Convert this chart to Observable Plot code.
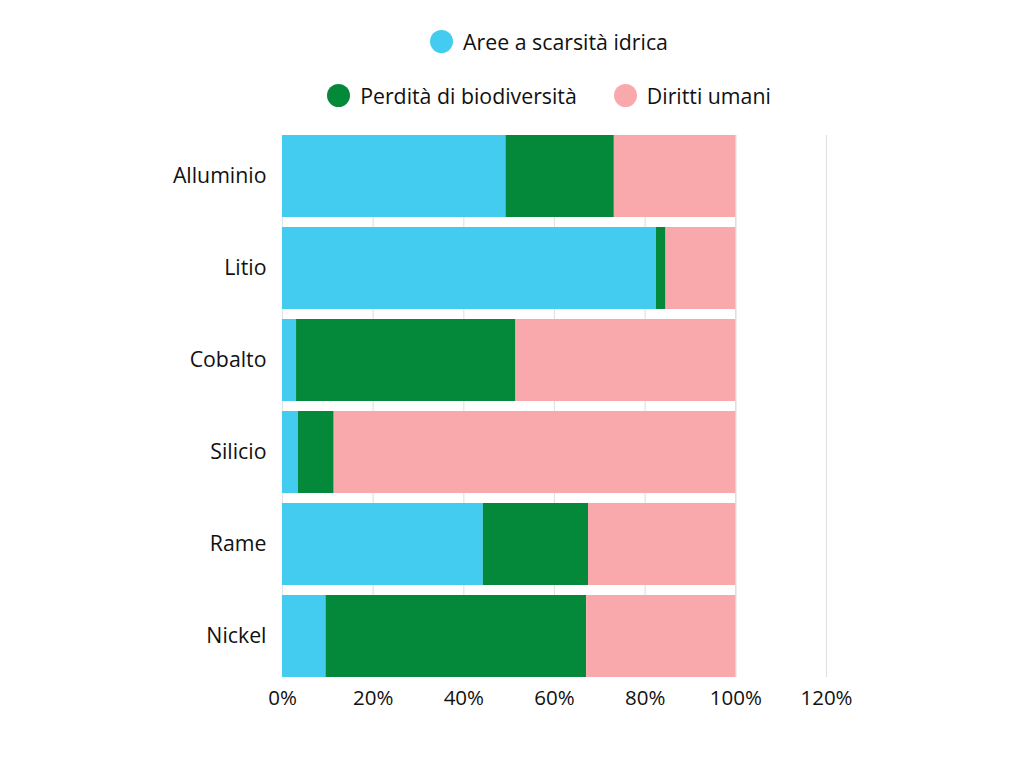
<!DOCTYPE html>
<html>
<head>
<meta charset="utf-8">
<script src="https://cdn.jsdelivr.net/npm/d3@7"></script>
<script src="https://cdn.jsdelivr.net/npm/@observablehq/plot@0.6"></script>
<style>
  body { margin: 0; background: #fff; font-family: "Open Sans", sans-serif; }
  #legend { width: 1024px; height: 122px; position: relative; font-size: 21.3px; color: #111; }
  .row { position: absolute; left: 0; width: 1098px; display: flex; justify-content: center; gap: 37px; }
  .item { display: flex; align-items: center; gap: 10px; }
  .dot { width: 23px; height: 23px; border-radius: 50%; display: inline-block; }
  svg g[aria-label="y-axis tick label"] text { font-size: 21.3px; }
</style>
</head>
<body>
<div id="legend"></div>
<div id="chart"></div>
<script>
const categories = ["Alluminio", "Litio", "Cobalto", "Silicio", "Rame", "Nickel"];
const seriesNames = ["Aree a scarsità idrica", "Perdità di biodiversità", "Diritti umani"];
const seriesColors = ["#43CBF0", "#04893A", "#F9A9AB"];
const scarsitaIdrica = [49.3, 82.5, 3.1, 3.5, 44.3, 9.6];
const biodiversita   = [23.9, 2.1, 48.4, 7.9, 23.2, 57.5];
const dirittiUmani   = [26.8, 15.4, 48.5, 88.6, 32.5, 32.9];
const xTicks = [0, 20, 40, 60, 80, 100, 120];

const seriesValues = [scarsitaIdrica, biodiversita, dirittiUmani];
const data = [];
seriesNames.forEach((s, si) => {
  categories.forEach((c, ci) => data.push({ category: c, series: s, value: seriesValues[si][ci] }));
});

// legend
const legend = document.getElementById("legend");
const rows = [[0, 42], [1, 96], [2, 96]];
const rowEls = {};
rows.forEach(([si, y]) => {
  if (!rowEls[y]) {
    const r = document.createElement("div");
    r.className = "row";
    r.style.top = (y - 15) + "px";
    legend.appendChild(r);
    rowEls[y] = r;
  }
  const it = document.createElement("div");
  it.className = "item";
  it.innerHTML = `<span class="dot" style="background:${seriesColors[si]}"></span><span>${seriesNames[si]}</span>`;
  rowEls[y].appendChild(it);
});

const chart = Plot.plot({
  width: 1024,
  height: 620,
  marginLeft: 282,
  marginRight: 198,
  marginTop: 13,
  marginBottom: 65,
  style: { fontFamily: "Open Sans", fontSize: "20.5px", color: "#111", background: "#fff" },
  x: { domain: [0, 120], ticks: xTicks, tickFormat: d => d + "%", label: null, tickSize: 0, tickPadding: 13 },
  y: { domain: categories, label: null, tickSize: 0, tickPadding: 16, paddingInner: 0.11, paddingOuter: 0 },
  color: { domain: seriesNames, range: seriesColors },
  marks: [
    Plot.ruleX(xTicks, { stroke: "#e3e3e3", strokeWidth: 1.2 }),
    Plot.barX(data, Plot.stackX({ y: "category", x: "value", fill: "series", order: seriesNames })),
    Plot.ruleX([100], { stroke: "#d0d0d0", strokeWidth: 1, strokeOpacity: 0.6 })
  ]
});
document.getElementById("chart").appendChild(chart);
</script>
</body>
</html>
